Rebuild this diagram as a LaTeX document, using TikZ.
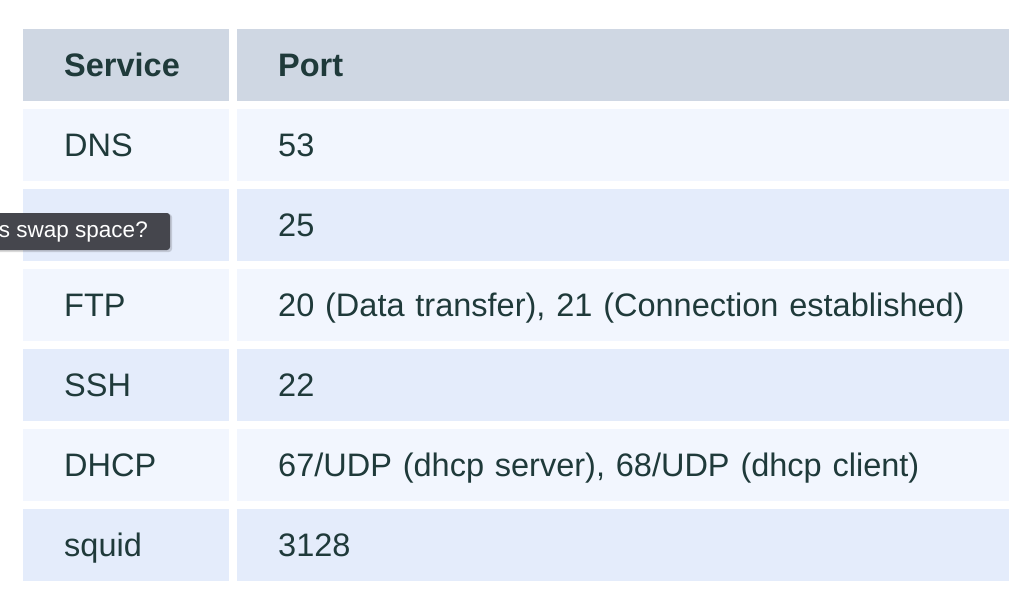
\documentclass[tikz,border=0pt]{standalone}
\usepackage{fontspec}
\setmainfont{Liberation Sans}
\definecolor{hdrfill}{HTML}{CFD7E3}
\definecolor{rowodd}{HTML}{F2F6FE}
\definecolor{roweven}{HTML}{E4ECFB}
\definecolor{inktext}{HTML}{1F3A3A}
\definecolor{tipfill}{HTML}{45464D}
\tikzset{
  cell/.style={anchor=north west, inner xsep=41pt, inner ysep=0pt, minimum height=72pt, align=left, text=inktext, text height=23pt, text depth=0pt, font=\fontsize{32.5}{34}\selectfont},
  colA/.style={cell, text width=124pt},
  colB/.style={cell, text width=690pt},
  hdr/.style={fill=hdrfill, font=\fontsize{32.5}{34}\selectfont\bfseries},
}
\begin{document}
\begin{tikzpicture}[x=1pt, y=-1pt]
\useasboundingbox[fill=white] (0,0) rectangle (1028,610);
% header
\node[colA, hdr] (hA) at (23,29) {Service};
\node[colB, hdr] (hB) at (237,29) {Port};
% rows
\node[colA, fill=rowodd] (A1) at (23,109) {DNS};
\node[colB, fill=rowodd] (B1) at (237,109) {53};
\node[colA, fill=roweven] (A2) at (23,189) {};
\node[colB, fill=roweven] (B2) at (237,189) {25};
\node[colA, fill=rowodd] (A3) at (23,269) {FTP};
\node[colB, fill=rowodd] (B3) at (237,269) {20 (Data transfer), 21 (Connection established)};
\node[colA, fill=roweven] (A4) at (23,349) {SSH};
\node[colB, fill=roweven] (B4) at (237,349) {22};
\node[colA, fill=rowodd] (A5) at (23,429) {DHCP};
\node[colB, fill=rowodd] (B5) at (237,429) {67/UDP (dhcp server), 68/UDP (dhcp client)};
\node[colA, fill=roweven] (A6) at (23,509) {squid};
\node[colB, fill=roweven] (B6) at (237,509) {3128};
% tooltip
\fill[black, opacity=0.15, rounded corners=3pt] (-10,214) rectangle (172,252);
\fill[tipfill, rounded corners=3pt] (-10,213) rectangle (170,250);
\node[anchor=base east, text=white, inner sep=0pt, font=\fontsize{22.5}{24}\selectfont] (tip) at (148,237) {s swap space?};
\end{tikzpicture}
\end{document}
